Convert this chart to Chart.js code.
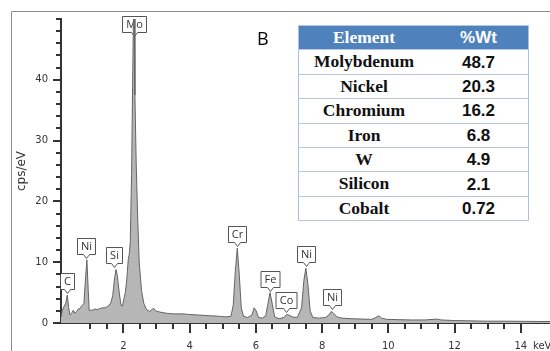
<!DOCTYPE html>
<html>
<head>
<meta charset="utf-8">
<script src="https://cdn.jsdelivr.net/npm/chart.js@4.4.1/dist/chart.umd.min.js"></script>
<style>
  html, body { margin: 0; padding: 0; background: #fff; overflow: hidden; }
  #wrap { position: relative; width: 550px; height: 351px; }
  #spectrum { position: absolute; left: 0; top: 0; }
  #panel { position: absolute; left: 257px; top: 26px; font-family: 'Open Sans', sans-serif; font-size: 18px; color: #000; }
  #comp { position: absolute; left: 298px; top: 25px; width: 231px; border-collapse: collapse; background: #fff;
          border-left: 1px solid #a9bfe0; border-right: 1px solid #a9bfe0; }
  #comp th, #comp td { padding: 0; height: 23.4px; text-align: center; line-height: 1;
          border-top: 1px solid #b7c7e2; border-bottom: 1px solid #b7c7e2; }
  #comp th { background: #4f81bd; color: #fff; font-weight: bold; }
  #comp .el { width: 130px; font-family: 'Liberation Serif', serif; font-weight: bold; font-size: 17.5px; color: #111; }
  #comp .wt { font-family: 'Liberation Sans', sans-serif; font-weight: bold; font-size: 17px; color: #111; }
  #comp th.el, #comp th.wt { color: #fff; }
</style>
</head>
<body>
<div id="wrap">
  <canvas id="spectrum" width="550" height="351"></canvas>
  <div id="panel">B</div>
  <table id="comp">
    <thead><tr><th class="el">Element</th><th class="wt">%Wt</th></tr></thead>
    <tbody id="compBody"></tbody>
  </table>
</div>
<script>
// spectrum (keV / cps per eV)
const energy = [
  0.12, 0.16, 0.21, 0.26, 0.31, 0.35, 0.39, 0.44, 0.49, 0.54, 0.59, 0.64, 0.69, 0.76, 0.81, 0.85, 0.90, 0.94, 0.97,
  1.06, 1.15, 1.22, 1.30, 1.38, 1.45, 1.55, 1.62, 1.68, 1.74, 1.78, 1.82, 1.87, 1.93, 1.97,
  2.02, 2.06, 2.10, 2.15, 2.18, 2.21, 2.25, 2.28, 2.31, 2.33, 2.35, 2.39, 2.43, 2.48, 2.55, 2.62, 2.70, 2.80, 2.88, 2.92, 2.97,
  3.10, 3.30, 3.50, 3.80, 4.00, 4.30, 4.60, 4.90, 5.10, 5.25, 5.32, 5.38, 5.44, 5.50, 5.56, 5.63, 5.75, 5.88, 5.95,
  6.01, 6.08, 6.20, 6.30, 6.36, 6.43, 6.50, 6.57, 6.70, 6.85, 6.93, 7.00, 7.10, 7.25, 7.38, 7.45, 7.51, 7.57, 7.64, 7.72, 7.90,
  8.10, 8.20, 8.28, 8.35, 8.45, 8.60, 8.90, 9.20, 9.50, 9.62, 9.71, 9.80, 9.95,
  10.3, 10.7, 11.1, 11.35, 11.45, 11.6, 12.0, 12.5, 13.0, 13.5, 14.0, 14.5, 14.9
];
const counts = [
  1.0, 2.1, 2.7, 3.2, 4.6, 2.5, 1.3, 1.6, 2.1, 1.6, 1.9, 2.3, 2.4, 2.9, 3.2, 6.5, 10.4, 5.5, 2.1,
  2.1, 2.3, 2.2, 2.4, 2.5, 2.5, 2.8, 3.3, 4.5, 7.5, 8.8, 7.8, 5.3, 2.9, 2.8,
  4.0, 5.0, 6.9, 10.5, 11.3, 13.3, 24.6, 39, 52, 51, 37.5, 26, 18, 10, 5.3, 3.2, 2.2, 1.9, 2.3, 2.4, 2.0,
  1.8, 1.6, 1.5, 1.5, 1.4, 1.3, 1.2, 1.1, 1.0, 1.1, 3.0, 8.5, 12.3, 8.0, 2.5, 1.1, 0.9, 1.3, 2.5,
  2.0, 0.9, 0.8, 1.2, 3.0, 5.0, 3.0, 1.0, 0.7, 0.9, 1.4, 1.3, 1.0, 0.9, 2.5, 7.0, 9.0, 6.5, 2.0, 0.9, 0.8,
  0.9, 1.3, 1.9, 1.6, 1.0, 0.8, 0.7, 0.65, 0.6, 0.9, 1.2, 0.8, 0.6,
  0.55, 0.5, 0.5, 0.6, 0.65, 0.5, 0.4, 0.35, 0.3, 0.3, 0.28, 0.25, 0.25
];

// peak markers
const peakNames = ['C', 'Ni', 'Si', 'Mo', 'Cr', 'Fe', 'Co', 'Ni', 'Ni'];
const peakEnergy = [0.30, 0.88, 1.72, 2.31, 5.44, 6.43, 6.90, 7.51, 8.29];
const peakHeight = [4.6, 10.4, 8.8, 46.8, 12.3, 5.0, 1.4, 9.0, 1.9];

// composition table
const elements = ['Molybdenum', 'Nickel', 'Chromium', 'Iron', 'W', 'Silicon', 'Cobalt'];
const weightPct = ['48.7', '20.3', '16.2', '6.8', '4.9', '2.1', '0.72'];

const body = document.getElementById('compBody');
elements.forEach((name, i) => {
    const row = document.createElement('tr');
    row.innerHTML = `<td class="el">${name}</td><td class="wt">${weightPct[i]}</td>`;
    body.appendChild(row);
});

const axisColor = '#333';
const tickFont = { family: 'DejaVu Sans', size: 10 };

const specDecor = {
    id: 'specDecor',
    beforeDraw(chart) {
        const ctx = chart.ctx;
        ctx.save();
        ctx.strokeStyle = '#8c8c8c';
        ctx.lineWidth = 1;
        ctx.beginPath();
        ctx.moveTo(11.5, 351);
        ctx.lineTo(11.5, 11.5);
        ctx.lineTo(550, 11.5);
        ctx.stroke();
        ctx.restore();
    },
    beforeDatasetsDraw(chart) {
        const ctx = chart.ctx;
        const xs = chart.scales.x, ys = chart.scales.y;
        ctx.save();
        ctx.font = '11px "Open Sans"';
        ctx.textAlign = 'center';
        ctx.textBaseline = 'middle';
        peakNames.forEach((name, i) => {
            const cx = Math.round(xs.getPixelForValue(peakEnergy[i])) + 0.5;
            const tip = ys.getPixelForValue(peakHeight[i]) - 2;
            const w = Math.round(ctx.measureText(name).width) + 7;
            const h = 16;
            const bottom = Math.round(tip - 4) + 0.5;
            const top = bottom - h;
            const l = cx - w / 2, r = cx + w / 2;
            ctx.beginPath();
            ctx.moveTo(l, top);
            ctx.lineTo(r, top);
            ctx.lineTo(r, bottom);
            ctx.lineTo(cx + 3, bottom);
            ctx.lineTo(cx, bottom + 4);
            ctx.lineTo(cx - 3, bottom);
            ctx.lineTo(l, bottom);
            ctx.closePath();
            ctx.fillStyle = '#fff';
            ctx.fill();
            ctx.strokeStyle = '#555';
            ctx.lineWidth = 1;
            ctx.stroke();
            ctx.fillStyle = '#333';
            ctx.fillText(name, cx, top + h / 2 + 0.5);
        });
        ctx.restore();
    },
    afterDraw(chart) {
        const ctx = chart.ctx;
        const xs = chart.scales.x, ys = chart.scales.y;
        const area = chart.chartArea;
        ctx.save();
        ctx.strokeStyle = axisColor;
        ctx.lineWidth = 2;
        ctx.beginPath();
        xs.ticks.forEach(t => {
            const px = Math.round(xs.getPixelForValue(t.value));
            const len = Math.abs(t.value % 2) < 1e-6 ? 10 : 6;
            ctx.moveTo(px, area.bottom);
            ctx.lineTo(px, area.bottom + len);
        });
        ys.ticks.forEach(t => {
            const py = Math.round(ys.getPixelForValue(t.value));
            const len = t.value % 10 === 0 && t.value < 50 ? 8 : 5;
            ctx.moveTo(area.left, py);
            ctx.lineTo(area.left - len, py);
        });
        ctx.stroke();
        ctx.fillStyle = axisColor;
        ctx.font = '10px "DejaVu Sans"';
        ctx.textBaseline = 'middle';
        ctx.fillText('keV', 533, 346);
        ctx.restore();
    }
};

new Chart(document.getElementById('spectrum'), {
    type: 'line',
    data: {
        datasets: [{
            data: energy.map((e, i) => ({ x: e, y: counts[i] })),
            borderColor: 'rgb(100,100,100)',
            backgroundColor: 'rgb(182,182,182)',
            borderWidth: 1,
            fill: 'origin',
            pointRadius: 0,
            tension: 0
        }]
    },
    options: {
        responsive: false,
        animation: false,
        devicePixelRatio: 1,
        layout: { padding: { top: 12, right: 0, left: 0, bottom: 0 } },
        plugins: { legend: { display: false }, tooltip: { enabled: false } },
        scales: {
            x: {
                type: 'linear',
                min: 0.119,
                max: 14.88,
                afterFit: s => { s.height = 28; },
                afterBuildTicks: s => {
                    s.ticks = s.ticks.filter(t => Math.abs(t.value * 2 - Math.round(t.value * 2)) < 1e-6);
                },
                grid: { display: false, drawTicks: false },
                border: { display: true, color: axisColor, width: 2 },
                ticks: {
                    stepSize: 0.5,
                    autoSkip: false,
                    maxRotation: 0,
                    padding: 17,
                    color: axisColor,
                    font: tickFont,
                    callback: v => (Math.abs(v % 2) < 1e-6 && v > 0) ? v : ''
                }
            },
            y: {
                min: 0,
                max: 50,
                afterFit: s => { s.width = 61; },
                grid: { display: false, drawTicks: false },
                border: { display: true, color: axisColor, width: 2 },
                title: {
                    display: true,
                    text: 'cps/eV',
                    color: axisColor,
                    font: { family: 'DejaVu Sans', size: 12 },
                    padding: { top: 15, bottom: 0 }
                },
                ticks: {
                    stepSize: 2,
                    autoSkip: false,
                    padding: 13,
                    color: axisColor,
                    font: tickFont,
                    callback: v => (v % 10 === 0 && v < 50) ? v : ''
                }
            }
        }
    },
    plugins: [specDecor]
});
</script>
</body>
</html>
